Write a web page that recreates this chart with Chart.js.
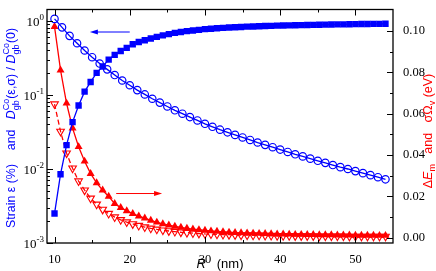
<!DOCTYPE html>
<html>
<head>
<meta charset="utf-8">
<script src="https://cdn.jsdelivr.net/npm/chart.js@4.4.1/dist/chart.umd.min.js"></script>
<style>
html, body { margin: 0; padding: 0; background: #fff; }
#c { display: block; }
</style>
</head>
<body>
<canvas id="c" width="436" height="271"></canvas>
<script>
// grain radius R (nm) - the two sampling grids used in the figure
const rFine = [10, 10.8, 11.6, 12.4, 13.2, 14, 14.8, 15.6, 16.4, 17.2, 18, 18.8, 19.6, 20.4, 21.2, 22,
  22.8, 23.6, 24.4, 25.2, 26, 26.8, 27.6, 28.4, 29.2, 30, 30.8, 31.6, 32.4, 33.2, 34, 34.8, 35.6, 36.4,
  37.2, 38, 38.8, 39.6, 40.4, 41.2, 42, 42.8, 43.6, 44.4, 45.2, 46, 46.8, 47.6, 48.4, 49.2, 50, 50.8,
  51.6, 52.4, 53.2, 54];
const rCoarse = [10, 11, 12, 13, 14, 15, 16, 17, 18, 19, 20, 21, 22, 23, 24, 25, 26, 27, 28, 29, 30,
  31, 32, 33, 34, 35, 36, 37, 38, 39, 40, 41, 42, 43, 44, 45, 46, 47, 48, 49, 50, 51, 52, 53, 54];

// left axis (log)
const strain = [0.0025, 0.0085, 0.021, 0.043, 0.072, 0.111, 0.150, 0.199, 0.243, 0.30, 0.349, 0.393,
  0.434, 0.485, 0.52, 0.55, 0.58, 0.61, 0.64, 0.665, 0.69, 0.71, 0.73, 0.745, 0.76, 0.775, 0.787, 0.798,
  0.808, 0.816, 0.824, 0.831, 0.838, 0.844, 0.850, 0.855, 0.860, 0.865, 0.869, 0.873, 0.877, 0.881,
  0.884, 0.887, 0.890, 0.893, 0.896, 0.899, 0.902, 0.905, 0.907, 0.910, 0.912, 0.914, 0.916, 0.918];
const dRatio = [1.068, 0.820, 0.630, 0.500, 0.399, 0.324, 0.266, 0.222, 0.186, 0.157, 0.1355, 0.1165,
  0.1018, 0.0890, 0.0789, 0.0700, 0.0621, 0.0559, 0.0503, 0.0453, 0.0408, 0.0372, 0.0340, 0.0313,
  0.0289, 0.0267, 0.0247, 0.0228, 0.0212, 0.0197, 0.0183, 0.0170, 0.0158, 0.0148, 0.0138, 0.0129,
  0.0121, 0.0113, 0.0106, 0.0100, 0.00936, 0.00879, 0.00826, 0.00775, 0.00725];

// right axis (eV)
const deltaEm = [0.102, 0.081, 0.065, 0.053, 0.044, 0.037, 0.031, 0.0265, 0.023, 0.020,
  0.0165, 0.0146, 0.0130, 0.0117, 0.0105, 0.0095, 0.0084, 0.0075, 0.0067, 0.0061,
  0.0055, 0.0050, 0.0046, 0.0042, 0.0039, 0.0036, 0.0033, 0.0031, 0.0029, 0.0027,
  0.0025, 0.0024, 0.0023, 0.0022, 0.0021, 0.0020, 0.0019, 0.0018, 0.0018, 0.0017,
  0.0016, 0.0016, 0.0015, 0.0015, 0.0014, 0.0014, 0.0014, 0.0013, 0.0013, 0.0013,
  0.0012, 0.0012, 0.0012, 0.0012, 0.0011, 0.0011];
const sigmaOmega = [0.0646, 0.0514, 0.0409, 0.0336, 0.0274, 0.0230, 0.0191, 0.0162, 0.0137, 0.0117,
  0.0100, 0.0087, 0.0076, 0.0067, 0.0059, 0.0052, 0.0046, 0.0041, 0.0037, 0.0033,
  0.0030, 0.0027, 0.0025, 0.0023, 0.0021, 0.0019, 0.0018, 0.0017, 0.0016, 0.0015,
  0.0014, 0.0013, 0.0013, 0.0012, 0.0012, 0.0011, 0.0011, 0.0010, 0.0010, 0.0010,
  0.0009, 0.0009, 0.0009, 0.0009, 0.0008, 0.0008, 0.0008, 0.0008, 0.0008, 0.0007,
  0.0007, 0.0007, 0.0007, 0.0007, 0.0007, 0.0007];

// ticks
const xTicks = [10, 20, 30, 40, 50];
const xMinor = [15, 25, 35, 45];
const leftTicks = [0.001, 0.01, 0.1, 1];
const leftExp = ['-3', '-2', '-1', '0'];
const rightTicks = [0, 0.02, 0.04, 0.06, 0.08, 0.10];
const rightMinor = [0.01, 0.03, 0.05, 0.07, 0.09];

const BLUE = '#0000ff';
const RED = '#ff0000';
const SERIF = '"Liberation Serif", "Times New Roman", serif';
const SANS = '"Liberation Sans", Arial, sans-serif';

const pts = (xs, ys) => xs.map((x, i) => ({ x: x, y: ys[i] }));

// rich text (sub / superscripts), optionally rotated
function drawRich(ctx, parts, cx, cy, size, color, rot) {
  const small = Math.round(size * 0.72);
  const fnt = (s, it) => (it ? 'italic ' : '') + s + 'px ' + SANS;
  const widthOf = p => {
    if (p.t) { ctx.font = fnt(size, p.it); return ctx.measureText(p.t).width; }
    ctx.font = fnt(small);
    return Math.max(p.sub ? ctx.measureText(p.sub).width : 0, p.sup ? ctx.measureText(p.sup).width : 0);
  };
  const total = parts.reduce((s, p) => s + widthOf(p), 0);
  ctx.save();
  ctx.translate(cx, cy);
  if (rot) ctx.rotate(rot);
  ctx.fillStyle = color;
  ctx.textAlign = 'left';
  ctx.textBaseline = 'alphabetic';
  const base = size * 0.36;
  let x = -total / 2;
  parts.forEach(p => {
    const w = widthOf(p);
    if (p.t) {
      ctx.font = fnt(size, p.it);
      ctx.fillText(p.t, x, base);
    } else {
      ctx.font = fnt(small);
      if (p.sub) ctx.fillText(p.sub, x, base + size * 0.3);
      if (p.sup) ctx.fillText(p.sup, x, base - size * 0.55);
    }
    x += w;
  });
  ctx.restore();
}

function arrow(ctx, x1, y, x2, color) {
  const dir = x2 > x1 ? 1 : -1;
  ctx.save();
  ctx.strokeStyle = color;
  ctx.fillStyle = color;
  ctx.lineWidth = 1;
  ctx.beginPath();
  ctx.moveTo(x1, y);
  ctx.lineTo(x2 - dir * 5, y);
  ctx.stroke();
  ctx.beginPath();
  ctx.moveTo(x2, y);
  ctx.lineTo(x2 - dir * 8, y - 2.5);
  ctx.lineTo(x2 - dir * 8, y + 2.5);
  ctx.closePath();
  ctx.fill();
  ctx.restore();
}

const decor = {
  id: 'decor',
  afterDatasetsDraw(chart) {
    const { ctx, chartArea: a, scales } = chart;
    const xs = scales.x, yl = scales.y, yr = scales.y2;
    ctx.save();
    ctx.strokeStyle = '#000';
    ctx.lineWidth = 1;
    ctx.beginPath();
    const tick = (x1, y1, x2, y2) => { ctx.moveTo(x1, y1); ctx.lineTo(x2, y2); };
    xTicks.forEach(v => {
      const p = Math.round(xs.getPixelForValue(v)) + 0.5;
      tick(p, a.bottom, p, a.bottom - 6);
      tick(p, a.top, p, a.top + 6);
    });
    xMinor.forEach(v => {
      const p = Math.round(xs.getPixelForValue(v)) + 0.5;
      tick(p, a.bottom, p, a.bottom - 3);
      tick(p, a.top, p, a.top + 3);
    });
    leftTicks.forEach(v => {
      const p = Math.round(yl.getPixelForValue(v)) + 0.5;
      tick(a.left, p, a.left + 6, p);
      for (let m = 2; m <= 9; m++) {
        const mv = v * m;
        if (mv < yl.max) {
          const q = Math.round(yl.getPixelForValue(mv)) + 0.5;
          tick(a.left, q, a.left + 3, q);
        }
      }
    });
    rightTicks.forEach(v => {
      const p = Math.round(yr.getPixelForValue(v)) + 0.5;
      tick(a.right, p, a.right - 6, p);
    });
    rightMinor.forEach(v => {
      const p = Math.round(yr.getPixelForValue(v)) + 0.5;
      tick(a.right, p, a.right - 3, p);
    });
    ctx.stroke();
    ctx.lineWidth = 1.3;
    ctx.strokeRect(a.left, a.top, a.right - a.left, a.bottom - a.top);

    // left tick labels 10^n
    ctx.fillStyle = '#000';
    ctx.textBaseline = 'alphabetic';
    leftTicks.forEach((v, i) => {
      const p = yl.getPixelForValue(v);
      ctx.font = '9px ' + SERIF;
      const sw = ctx.measureText(leftExp[i]).width;
      const right = a.left - 3;
      ctx.textAlign = 'left';
      ctx.fillText(leftExp[i], right - sw, p - 1);
      ctx.font = '13px ' + SERIF;
      ctx.textAlign = 'right';
      ctx.fillText('10', right - sw, p + 5);
    });
    ctx.restore();

    // arrows
    arrow(ctx, xs.getPixelForValue(20.0), yl.getPixelForValue(0.71), xs.getPixelForValue(14.7), BLUE);
    arrow(ctx, xs.getPixelForValue(18.2), yr.getPixelForValue(0.0214), xs.getPixelForValue(24.3), RED);

    // axis titles
    drawRich(ctx, [
      { t: 'Strain ε (%)    and   ' },
      { t: 'D', it: true },
      { sub: 'gb', sup: 'Co' },
      { t: '(ε,σ) / ' },
      { t: 'D', it: true },
      { sub: 'gb', sup: 'Co' },
      { t: '(0)' }
    ], 11, 128, 12.4, BLUE, -Math.PI / 2);
    drawRich(ctx, [
      { t: 'Δ' },
      { t: 'E', it: true },
      { sub: 'm' },
      { t: '   and   σΩ' },
      { sub: 'v' },
      { t: ' (eV)' }
    ], 427, 131, 12.5, RED, -Math.PI / 2);
    drawRich(ctx, [
      { t: 'R', it: true },
      { t: '   (nm)' }
    ], 220, 263, 13, '#000', 0);
  }
};

new Chart(document.getElementById('c'), {
  type: 'scatter',
  data: {
    datasets: [
      {
        data: pts(rCoarse, dRatio),
        yAxisID: 'y',
        showLine: true,
        borderColor: BLUE,
        borderWidth: 1.3,
        pointStyle: 'circle',
        pointRadius: 3.7,
        pointBorderWidth: 1.2,
        pointBorderColor: BLUE,
        pointBackgroundColor: 'rgba(0,0,0,0)'
      },
      {
        data: pts(rFine, strain),
        yAxisID: 'y',
        showLine: true,
        borderColor: BLUE,
        borderWidth: 1.3,
        pointStyle: 'rect',
        pointRadius: 4.5,
        pointBorderWidth: 0,
        pointBackgroundColor: BLUE
      },
      {
        data: pts(rFine, deltaEm),
        yAxisID: 'y2',
        showLine: true,
        borderColor: RED,
        borderWidth: 1.3,
        pointStyle: 'triangle',
        pointRadius: 4.6,
        pointBorderWidth: 0,
        pointBackgroundColor: RED
      },
      {
        data: pts(rFine, sigmaOmega),
        yAxisID: 'y2',
        showLine: true,
        borderColor: RED,
        borderWidth: 1.3,
        borderDash: [5, 3],
        pointStyle: 'triangle',
        rotation: 180,
        pointRadius: 4.4,
        pointBorderWidth: 1.1,
        pointBorderColor: RED,
        pointBackgroundColor: 'rgba(0,0,0,0)'
      }
    ]
  },
  options: {
    responsive: false,
    animation: false,
    layout: { padding: { top: 1, left: 0, right: 0, bottom: 0 } },
    plugins: { legend: { display: false }, tooltip: { enabled: false } },
    scales: {
      x: {
        type: 'linear',
        min: 9,
        max: 55,
        grid: { display: false },
        border: { display: false },
        afterFit: s => { s.height = 28; },
        afterBuildTicks: s => { s.ticks = xTicks.map(v => ({ value: v })); },
        ticks: { color: '#000', padding: 1, font: { family: SERIF, size: 12.5 } }
      },
      y: {
        type: 'logarithmic',
        position: 'left',
        min: 0.001,
        max: 1.43,
        grid: { display: false },
        border: { display: false },
        afterFit: s => { s.width = 47; },
        ticks: { display: false }
      },
      y2: {
        type: 'linear',
        position: 'right',
        min: -0.0025,
        max: 0.1103,
        grid: { display: false },
        border: { display: false },
        afterFit: s => { s.width = 43; },
        afterBuildTicks: s => { s.ticks = rightTicks.map(v => ({ value: v })); },
        ticks: {
          color: '#000',
          padding: 2,
          font: { family: SERIF, size: 12.5 },
          callback: v => v.toFixed(2)
        }
      }
    }
  },
  plugins: [decor]
});
</script>
</body>
</html>
